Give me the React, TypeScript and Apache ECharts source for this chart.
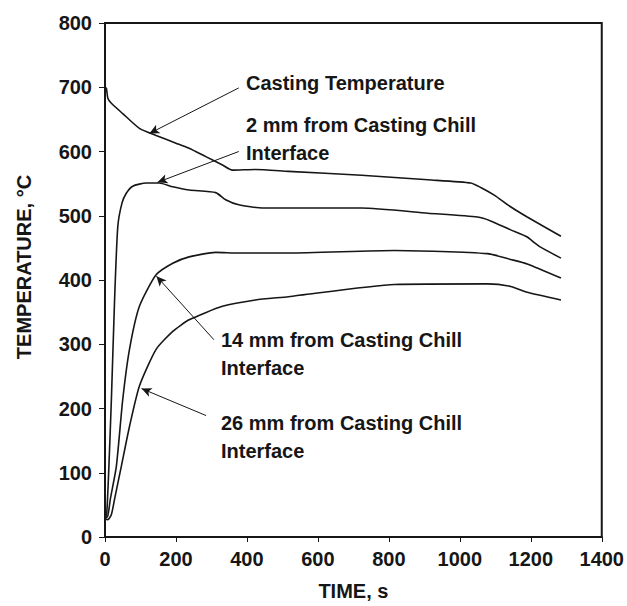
import React, { useEffect, useRef } from "react";
import * as echarts from "echarts";

// time (s) / temperature (°C) pairs
const castingTime = [0, 4, 8, 18, 50, 97, 144, 200, 237, 284, 331, 359, 424, 517, 723, 910, 1031, 1059, 1097, 1143, 1190, 1285];
const castingTemp = [700, 698, 683, 675, 659, 636, 625, 613, 605, 592, 579, 571, 572, 569, 563, 556, 551, 544, 532, 514, 498, 468];

const mm2Time = [0, 5, 11, 18, 27, 36, 48, 60, 78, 116, 153, 191, 237, 312, 340, 377, 443, 723, 910, 1050, 1087, 1143, 1190, 1210, 1225, 1285];
const mm2Temp = [28, 38, 110, 214, 369, 483, 520, 535, 546, 551, 551, 545, 540, 536, 525, 517, 512, 512, 504, 498, 492, 478, 467, 458, 452, 434];

const mm14Time = [0, 8, 15, 32, 50, 69, 97, 144, 191, 237, 312, 377, 517, 816, 1078, 1143, 1190, 1285];
const mm14Temp = [28, 33, 59, 110, 214, 292, 359, 408, 426, 436, 443, 442, 442, 446, 441, 432, 425, 403];

const mm26Time = [0, 8, 18, 27, 46, 69, 97, 144, 191, 237, 331, 424, 517, 816, 1078, 1143, 1190, 1285];
const mm26Temp = [28, 27, 35, 59, 110, 172, 235, 292, 320, 338, 359, 369, 374, 393, 394, 390, 381, 369];

const xTicks = [0, 200, 400, 600, 800, 1000, 1200, 1400];
const yTicks = [0, 100, 200, 300, 400, 500, 600, 700, 800];

const annotationTexts = [
  "Casting Temperature",
  "2 mm from Casting Chill\nInterface",
  "14 mm from Casting Chill\nInterface",
  "26 mm from Casting Chill\nInterface",
];

// arrows: [from (time, temp), to (time, temp)]
const arrowFrom = [[377, 699], [377, 600], [307, 307], [285, 189]];
const arrowTo = [[125, 628], [148, 552], [145, 406], [103, 231]];

const zip = (a: number[], b: number[]) => a.map((v, i) => [v, b[i]]);

const FONT = "'Liberation Sans', Arial, Helvetica, sans-serif";
const INK = "#161616";

export default function App() {
  const ref = useRef<HTMLDivElement>(null);
  useEffect(() => {
    if (!ref.current) return;
    const chart = echarts.init(ref.current, null, { renderer: "svg" });
    const lineSeries = (name: string, data: number[][], extra: any = {}) => ({
      type: "line",
      name,
      data,
      showSymbol: false,
      symbol: "none",
      smooth: 0.2,
      lineStyle: { color: INK, width: 1.6 },
      silent: true,
      ...extra,
    });
    const arrows = arrowFrom.map((f, i) => [
      { coord: f },
      { coord: arrowTo[i] },
    ]);
    const textPos = [
      [246, 69],
      [246, 110.5],
      [221, 326],
      [221, 409],
    ];
    chart.setOption({
      animation: false,
      grid: {
        left: 105,
        right: 22,
        top: 23,
        bottom: 68,
        show: true,
        borderColor: INK,
        borderWidth: 2,
        backgroundColor: "transparent",
      },
      xAxis: {
        type: "value",
        min: xTicks[0],
        max: xTicks[xTicks.length - 1],
        interval: 200,
        axisLine: { lineStyle: { color: INK, width: 2 } },
        axisTick: { show: true, length: 5, lineStyle: { color: INK, width: 1 } },
        splitLine: { show: false },
        axisLabel: {
          color: INK,
          fontFamily: FONT,
          fontWeight: "bold",
          fontSize: 20,
          margin: 12,
          formatter: (v: number) => String(v),
        },
        name: "TIME, s",
        nameLocation: "middle",
        nameGap: 44,
        nameTextStyle: { color: INK, fontFamily: FONT, fontWeight: "bold", fontSize: 20 },
      },
      yAxis: {
        type: "value",
        min: yTicks[0],
        max: yTicks[yTicks.length - 1],
        interval: 100,
        axisLine: { show: true, lineStyle: { color: INK, width: 2 } },
        axisTick: { show: true, length: 6, lineStyle: { color: INK, width: 1 } },
        splitLine: { show: false },
        axisLabel: {
          color: INK,
          fontFamily: FONT,
          fontWeight: "bold",
          fontSize: 20,
          margin: 13,
          formatter: (v: number) => String(v),
        },
      },
      graphic: [
        {
          type: "text",
          x: 24,
          y: 267,
          rotation: Math.PI / 2,
          style: {
            text: "TEMPERATURE, °C",
            fill: INK,
            font: `bold 20px ${FONT}`,
            textAlign: "center",
            textVerticalAlign: "middle",
          },
        },
        ...annotationTexts.map((t, i) => ({
          type: "text",
          x: textPos[i][0],
          y: textPos[i][1],
          style: {
            text: t,
            fill: INK,
            font: `bold 20px ${FONT}`,
            lineHeight: 28,
            textAlign: "left",
            textVerticalAlign: "top",
          },
        })),
      ],
      series: [
        lineSeries("Casting Temperature", zip(castingTime, castingTemp), {
          markLine: {
            silent: true,
            symbol: ["none", "arrow"],
            symbolSize: [7, 10],
            label: { show: false },
            lineStyle: { color: INK, width: 1, type: "solid" },
            emphasis: { disabled: true },
            data: arrows,
          },
        }),
        lineSeries("2 mm", zip(mm2Time, mm2Temp)),
        lineSeries("14 mm", zip(mm14Time, mm14Temp)),
        lineSeries("26 mm", zip(mm26Time, mm26Temp)),
      ],
    });
    return () => chart.dispose();
  }, []);
  return (
    <div
      ref={ref}
      style={{ position: "absolute", left: 0, top: 0, width: 627, height: 606, overflow: "visible" }}
    />
  );
}
